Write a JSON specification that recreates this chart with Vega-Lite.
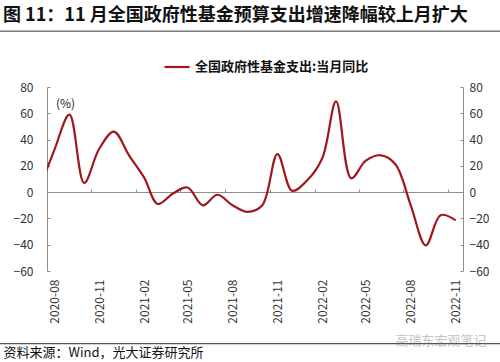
{
  "$schema": "https://vega.github.io/schema/vega-lite/v6.json",
  "width": 416,
  "height": 184,
  "autosize": "none",
  "padding": {"left": 47, "top": 87, "right": 37, "bottom": 91},
  "background": "white",
  "config": {
    "font": "Noto Sans CJK SC",
    "view": {"stroke": null},
    "axis": {"labelFont": "Noto Sans CJK SC", "labelFontSize": 12, "labelColor": "#333333", "domainColor": "#8c8c8c", "tickColor": "#8c8c8c", "grid": false, "titleFont": "Noto Sans CJK SC"}
  },
  "title": {
    "text": "图 11：11 月全国政府性基金预算支出增速降幅较上月扩大",
    "anchor": "start",
    "frame": "group",
    "dx": -44,
    "offset": 6,
    "fontSize": 18,
    "font": "Noto Sans CJK SC",
    "fontWeight": "bold",
    "color": "#111111"
  },
  "data": {
    "values": [
      {"date": "2020-07-01", "v": 2},
      {"date": "2020-08-01", "v": 32},
      {"date": "2020-09-01", "v": 59},
      {"date": "2020-10-01", "v": 7},
      {"date": "2020-11-01", "v": 33},
      {"date": "2020-12-01", "v": 46},
      {"date": "2021-01-01", "v": 28},
      {"date": "2021-02-01", "v": 11},
      {"date": "2021-03-01", "v": -9},
      {"date": "2021-04-01", "v": -1},
      {"date": "2021-05-01", "v": 3.5},
      {"date": "2021-06-01", "v": -10},
      {"date": "2021-07-01", "v": -2},
      {"date": "2021-08-01", "v": -10},
      {"date": "2021-09-01", "v": -15},
      {"date": "2021-10-01", "v": -10},
      {"date": "2021-11-01", "v": 29},
      {"date": "2021-12-01", "v": 1},
      {"date": "2022-01-01", "v": 9},
      {"date": "2022-02-01", "v": 26},
      {"date": "2022-03-01", "v": 69},
      {"date": "2022-04-01", "v": 10.5},
      {"date": "2022-05-01", "v": 24},
      {"date": "2022-06-01", "v": 28},
      {"date": "2022-07-01", "v": 21},
      {"date": "2022-08-01", "v": -10},
      {"date": "2022-09-01", "v": -40.5},
      {"date": "2022-10-01", "v": -17.5},
      {"date": "2022-11-01", "v": -21.5}
    ],
    "format": {"parse": {"date": "utc:'%Y-%m-%d'"}}
  },
  "layer": [
    {
      "mark": {"type": "line", "clip": true, "interpolate": "catmull-rom", "strokeWidth": 2.2},
      "encoding": {
        "x": {
          "field": "date",
          "type": "temporal",
          "scale": {"type": "utc", "nice": false, "domain": [{"year": 2020, "month": 7, "date": 17, "utc": true}, {"year": 2022, "month": 11, "date": 16, "utc": true}]},
          "axis": {
            "orient": "bottom",
            "domain": false,
            "ticks": false,
            "labelAngle": -90,
            "labelPadding": 8,
            "format": "%Y-%m",
            "values": [
              {"year": 2020, "month": 8, "date": 1, "utc": true},
              {"year": 2020, "month": 11, "date": 1, "utc": true},
              {"year": 2021, "month": 2, "date": 1, "utc": true},
              {"year": 2021, "month": 5, "date": 1, "utc": true},
              {"year": 2021, "month": 8, "date": 1, "utc": true},
              {"year": 2021, "month": 11, "date": 1, "utc": true},
              {"year": 2022, "month": 2, "date": 1, "utc": true},
              {"year": 2022, "month": 5, "date": 1, "utc": true},
              {"year": 2022, "month": 8, "date": 1, "utc": true},
              {"year": 2022, "month": 11, "date": 1, "utc": true}
            ],
            "title": "资料来源：Wind，光大证券研究所",
            "titleX": -44,
            "titleY": 81,
            "titleAlign": "left",
            "titleAnchor": "start",
            "titleBaseline": "middle",
            "titleFontSize": 13,
            "titleFontWeight": "normal",
            "titleColor": "#111111"
          }
        },
        "y": {
          "field": "v",
          "type": "quantitative",
          "scale": {"domain": [-60, 80], "nice": false, "zero": false},
          "axis": {
            "orient": "left",
            "values": [-60, -40, -20, 0, 20, 40, 60, 80],
            "tickSize": -3,
            "labelPadding": 17,
            "title": "(%)",
            "titleAngle": 0,
            "titleX": 18,
            "titleY": 16,
            "titleAlign": "center",
            "titleBaseline": "middle",
            "titleFontSize": 12,
            "titleFontWeight": "normal",
            "titleColor": "#222222"
          }
        },
        "color": {
          "datum": "全国政府性基金支出:当月同比",
          "type": "nominal",
          "scale": {"range": ["#A0171C"]},
          "legend": {
            "title": null,
            "orient": "none",
            "legendX": 116,
            "legendY": -34,
            "symbolType": "stroke",
            "symbolSize": 625,
            "symbolStrokeWidth": 2.2,
            "labelFontSize": 13,
            "labelFontWeight": "bold",
            "labelColor": "#111111",
            "labelOffset": 4,
            "labelLimit": 400
          }
        }
      }
    },
    {
      "mark": {"type": "line", "opacity": 0},
      "encoding": {
        "x": {
          "field": "date",
          "type": "temporal",
          "scale": {"type": "utc", "nice": false, "domain": [{"year": 2020, "month": 7, "date": 17, "utc": true}, {"year": 2022, "month": 11, "date": 16, "utc": true}]},
          "axis": {
            "orient": "top",
            "offset": -105,
            "labels": false,
            "tickSize": 3,
            "title": null,
            "values": [
              {"year": 2020, "month": 10, "date": 16, "utc": true},
              {"year": 2021, "month": 1, "date": 16, "utc": true},
              {"year": 2021, "month": 4, "date": 16, "utc": true},
              {"year": 2021, "month": 7, "date": 16, "utc": true},
              {"year": 2021, "month": 10, "date": 16, "utc": true},
              {"year": 2022, "month": 1, "date": 16, "utc": true},
              {"year": 2022, "month": 4, "date": 16, "utc": true},
              {"year": 2022, "month": 7, "date": 16, "utc": true},
              {"year": 2022, "month": 10, "date": 16, "utc": true}
            ]
          }
        },
        "y": {
          "field": "v",
          "type": "quantitative",
          "scale": {"domain": [-60, 80], "nice": false, "zero": false},
          "axis": {
            "orient": "right",
            "values": [-60, -40, -20, 0, 20, 40, 60, 80],
            "tickSize": -3,
            "labelPadding": 9,
            "labelAlign": "left",
            "title": "高瑞东宏观笔记",
            "titleAngle": 0,
            "titleX": -68,
            "titleY": 253,
            "titleAlign": "left",
            "titleBaseline": "middle",
            "titleFontSize": 13,
            "titleFontWeight": "normal",
            "titleColor": "#c4c4c4"
          }
        }
      }
    },
    {
      "data": {"values": [{"line": "title"}]},
      "mark": {"type": "rule", "clip": false, "color": "#333333", "strokeWidth": 1},
      "encoding": {
        "x": {"datum": {"year": 2020, "month": 3, "date": 1, "utc": true}, "type": "temporal", "axis": null, "scale": {"type": "utc", "nice": false, "domain": [{"year": 2020, "month": 7, "date": 17, "utc": true}, {"year": 2022, "month": 11, "date": 16, "utc": true}]}},
        "x2": {"datum": {"year": 2023, "month": 3, "date": 1, "utc": true}},
        "y": {"datum": 122.5, "type": "quantitative", "axis": null, "scale": {"domain": [-60, 80], "nice": false, "zero": false}}
      }
    },
    {
      "data": {"values": [{"line": "footer"}]},
      "mark": {"type": "rule", "clip": false, "color": "#555555", "strokeWidth": 1.3},
      "encoding": {
        "x": {"datum": {"year": 2020, "month": 3, "date": 1, "utc": true}, "type": "temporal", "axis": null, "scale": {"type": "utc", "nice": false, "domain": [{"year": 2020, "month": 7, "date": 17, "utc": true}, {"year": 2022, "month": 11, "date": 16, "utc": true}]}},
        "x2": {"datum": {"year": 2023, "month": 3, "date": 1, "utc": true}},
        "y": {"datum": -115.2, "type": "quantitative", "axis": null, "scale": {"domain": [-60, 80], "nice": false, "zero": false}}
      }
    }
  ],
  "resolve": {"axis": {"x": "independent", "y": "independent"}}
}
